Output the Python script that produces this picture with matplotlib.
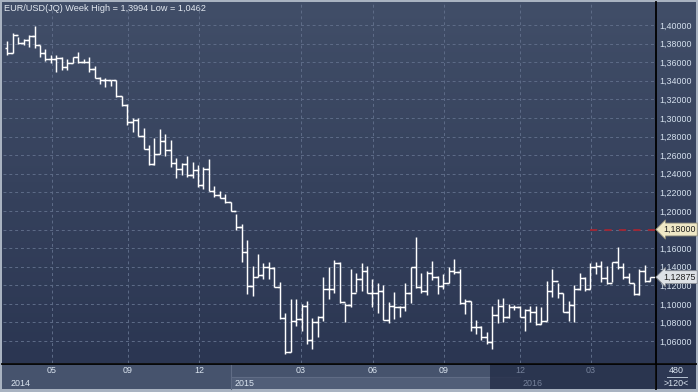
import numpy as np
import matplotlib
matplotlib.use("Agg")
import matplotlib.pyplot as plt
from matplotlib.patches import Rectangle
from matplotlib.transforms import blended_transform_factory

plt.rcParams['font.family'] = ['Liberation Sans', 'DejaVu Sans']

# ---------------- data (weekly EUR/USD bars) ----------------
high = [1.3825, 1.3911, 1.3875, 1.3846, 1.3889, 1.3994, 1.3782, 1.3746, 1.3682, 1.3682,
        1.3661, 1.3639, 1.3661, 1.3711, 1.3639, 1.3654, 1.3554, 1.3439, 1.3425, 1.3411,
        1.3411, 1.3239, 1.3147, 1.2997, 1.2997, 1.2888, 1.2711, 1.2789, 1.2881, 1.2824,
        1.2760, 1.2567, 1.2517, 1.2589, 1.2524, 1.2496, 1.2474, 1.2560, 1.2267, 1.2217,
        1.2182, 1.2096, 1.1967, 1.1860, 1.1682, 1.1410, 1.1535, 1.1435, 1.1450, 1.1393,
        1.1236, 1.0900, 1.1050, 1.1050, 1.1000, 1.1036, 1.0850, 1.0871, 1.1293, 1.1400,
        1.1471, 1.1450, 1.1007, 1.1378, 1.1328, 1.1435, 1.1407, 1.1271, 1.1221, 1.1200,
        1.1021, 1.1129, 1.0979, 1.1221, 1.1393, 1.1721, 1.1336, 1.1350, 1.1457, 1.1300,
        1.1321, 1.1393, 1.1486, 1.1378, 1.1050, 1.1029, 1.0829, 1.0764, 1.0700, 1.0979,
        1.1050, 1.1064, 1.1000, 1.0986, 1.0979, 1.0950, 1.0979, 1.0979, 1.0964, 1.1243,
        1.1371, 1.1229, 1.1121, 1.1036, 1.1207, 1.1336, 1.1286, 1.1436, 1.1450, 1.1464,
        1.1407, 1.1450, 1.1607, 1.1443, 1.1336, 1.1229, 1.1371, 1.1414, 1.1293]
low = [1.3675, 1.3696, 1.3796, 1.3782, 1.3768, 1.3754, 1.3654, 1.3618, 1.3596, 1.3497,
       1.3511, 1.3518, 1.3589, 1.3589, 1.3589, 1.3497, 1.3425, 1.3368, 1.3332, 1.3346,
       1.3225, 1.3132, 1.2925, 1.2854, 1.2810, 1.2667, 1.2489, 1.2489, 1.2610, 1.2596,
       1.2467, 1.2353, 1.2381, 1.2360, 1.2353, 1.2253, 1.2231, 1.2217, 1.2146, 1.2139,
       1.2082, 1.1996, 1.1796, 1.1453, 1.1111, 1.1089, 1.1290, 1.1271, 1.1264, 1.1178,
       1.0836, 1.0462, 1.0486, 1.0757, 1.0707, 1.0571, 1.0514, 1.0643, 1.0811, 1.1057,
       1.1114, 1.1014, 1.0807, 1.0964, 1.1128, 1.1136, 1.1121, 1.0964, 1.0907, 1.0829,
       1.0793, 1.0836, 1.0857, 1.0921, 1.1007, 1.1168, 1.1114, 1.1100, 1.1257, 1.1107,
       1.1164, 1.1221, 1.1321, 1.1000, 1.0886, 1.0707, 1.0679, 1.0614, 1.0571, 1.0514,
       1.0793, 1.0800, 1.0843, 1.0936, 1.0857, 1.0707, 1.0807, 1.0771, 1.0779, 1.0821,
       1.1079, 1.1064, 1.0914, 1.0821, 1.0807, 1.1150, 1.1143, 1.1164, 1.1321, 1.1236,
       1.1214, 1.1236, 1.1378, 1.1271, 1.1229, 1.1100, 1.1093, 1.1236, 1.1243]
close = [1.3704, 1.3889, 1.3811, 1.3839, 1.3882, 1.3782, 1.3696, 1.3632, 1.3632, 1.3646,
         1.3546, 1.3596, 1.3654, 1.3604, 1.3604, 1.3532, 1.3432, 1.3404, 1.3404, 1.3404,
         1.3239, 1.3139, 1.2961, 1.2982, 1.2810, 1.2667, 1.2504, 1.2617, 1.2753, 1.2660,
         1.2517, 1.2446, 1.2510, 1.2389, 1.2439, 1.2281, 1.2453, 1.2217, 1.2167, 1.2139,
         1.2096, 1.2003, 1.1832, 1.1560, 1.1196, 1.1289, 1.1310, 1.1393, 1.1386, 1.1186,
         1.0843, 1.0486, 1.0821, 1.0836, 1.0978, 1.0614, 1.0800, 1.0864, 1.1160, 1.1160,
         1.1443, 1.1021, 1.0993, 1.1121, 1.1264, 1.1350, 1.1121, 1.1121, 1.1143, 1.0829,
         1.0979, 1.0971, 1.0964, 1.1114, 1.1393, 1.1179, 1.1136, 1.1336, 1.1293, 1.1193,
         1.1221, 1.1357, 1.1343, 1.1014, 1.1029, 1.0750, 1.0750, 1.0643, 1.0593, 1.0879,
         1.0979, 1.0864, 1.0964, 1.0964, 1.0857, 1.0929, 1.0914, 1.0779, 1.0821, 1.1143,
         1.1250, 1.1121, 1.0914, 1.0986, 1.1164, 1.1279, 1.1157, 1.1393, 1.1407, 1.1279,
         1.1229, 1.1450, 1.1400, 1.1286, 1.1229, 1.1107, 1.1357, 1.1243, 1.12875]
opn = [1.3754, 1.3704, 1.3889, 1.3811, 1.3839, 1.3882, 1.3782, 1.3696, 1.3632, 1.3632,
       1.3646, 1.3546, 1.3596, 1.3654, 1.3604, 1.3604, 1.3532, 1.3432, 1.3404, 1.3404,
       1.3404, 1.3239, 1.3139, 1.2961, 1.2982, 1.2810, 1.2667, 1.2504, 1.2617, 1.2753,
       1.2660, 1.2517, 1.2446, 1.2510, 1.2389, 1.2439, 1.2281, 1.2453, 1.2217, 1.2167,
       1.2139, 1.2096, 1.2003, 1.1832, 1.1560, 1.1196, 1.1289, 1.1310, 1.1393, 1.1386,
       1.1186, 1.0843, 1.0486, 1.0821, 1.0836, 1.0978, 1.0614, 1.0800, 1.0864, 1.1160,
       1.1160, 1.1443, 1.1021, 1.0993, 1.1121, 1.1264, 1.1350, 1.1121, 1.1121, 1.1143,
       1.0829, 1.0979, 1.0971, 1.0964, 1.1114, 1.1393, 1.1179, 1.1136, 1.1336, 1.1293,
       1.1193, 1.1221, 1.1357, 1.1343, 1.1014, 1.1029, 1.0750, 1.0750, 1.0643, 1.0593,
       1.0879, 1.0979, 1.0864, 1.0964, 1.0964, 1.0857, 1.0929, 1.0914, 1.0779, 1.0821,
       1.1143, 1.1250, 1.1121, 1.0914, 1.0986, 1.1164, 1.1279, 1.1157, 1.1393, 1.1407,
       1.1279, 1.1229, 1.1450, 1.1400, 1.1286, 1.1229, 1.1107, 1.1357, 1.1243]

price_ticks = [1.06, 1.08, 1.10, 1.12, 1.14, 1.16, 1.18, 1.20, 1.22, 1.24,
               1.26, 1.28, 1.30, 1.32, 1.34, 1.36, 1.38, 1.40]
month_labels = ["05", "09", "12", "03", "06", "09", "12", "03"]
month_pos = [8.2, 22.1, 35.2, 53.9, 67.1, 80.1, 94.1, 107.1]   # bar index of label
target_level = 1.18
last_price = 1.12875
title = "EUR/USD(JQ) Week High = 1,3994 Low = 1,0462"


def fmt(v):
    return f"{v:.5f}".replace('.', ',')


# ---------------- figure ----------------
W, H = 698, 392
fig = plt.figure(figsize=(W / 100, H / 100), dpi=100)
fig.patch.set_facecolor('#a9b3c1')

bg = fig.add_axes([0, 0, 1, 1])
bg.set_xlim(0, W)
bg.set_ylim(H, 0)
bg.axis('off')

g = np.linspace(0, 1, 256)[:, None, None]
top = np.array([65, 78, 104]) / 255
bot = np.array([43, 54, 82]) / 255
img = top + (bot - top) * g
bg.imshow(img, extent=(2, 696, 363, 2), aspect='auto', interpolation='bilinear', zorder=0)

# bottom time axis panel
bg.add_patch(Rectangle((2, 364), 653, 25, fc='#46536d', ec='none', zorder=1))
bg.add_patch(Rectangle((231, 377), 289, 12, fc='#515e78', ec='none', zorder=1))
bg.plot([231, 520], [377, 377], color='#606c85', lw=0.8, zorder=2)
bg.plot([231, 231], [364, 389], color='#606c85', lw=0.8, zorder=2)
bg.add_patch(Rectangle((490, 364), 165, 25, fc='#242e48', ec='none', alpha=0.8, zorder=3))
bg.add_patch(Rectangle((656, 364), 40, 25, fc='#2d3853', ec='none', zorder=1))
bg.plot([2, 696], [363.5, 363.5], color='black', lw=1.3, zorder=4)
bg.plot([655.5, 655.5], [2, 389], color='black', lw=1.3, zorder=4)

bg.text(11, 383, "2014", fontsize=6.4, color='#dbe5f0', ha='left', va='center', zorder=5)
bg.text(235, 383, "2015", fontsize=6.4, color='#dbe5f0', ha='left', va='center', zorder=5)
bg.text(523, 383, "2016", fontsize=6.4, color='#76829b', ha='left', va='center', zorder=5)
bg.text(676, 370.5, "480", fontsize=6.4, color='#dbe5f0', ha='center', va='center', zorder=5)
bg.plot([667, 687], [376.5, 376.5], color='#b8c4d2', lw=0.7, zorder=5)
bg.text(676, 383, ">120<", fontsize=6.4, color='#dbe5f0', ha='center', va='center', zorder=5)
bg.text(4, 8.5, title, fontsize=6.6, color='#e3e9f1', ha='left', va='center', zorder=5)

# ---------------- main price axes ----------------
ax = fig.add_axes([3 / W, 29 / H, 652 / W, 360 / H])
ax.patch.set_alpha(0)
for s in ax.spines.values():
    s.set_visible(False)
ax.set_xlim(-0.79, 118.85)
ax.set_ylim(1.03638, 1.42367)

ax.yaxis.tick_right()
ax.set_yticks(price_ticks)
# the 1,18000 level is shown in its marker box instead of as a plain tick label
ax.set_yticklabels(["" if abs(v - target_level) < 1e-9 else fmt(v) for v in price_ticks])
ax.tick_params(axis='y', length=0, pad=3.2, labelsize=6.4, labelcolor='#d5e1ee')
ax.set_xticks(month_pos)
ax.set_xticklabels(month_labels)
ax.tick_params(axis='x', length=0, pad=2.2, labelsize=6.4, labelcolor='#dbe5f0')
for lbl in ax.get_xticklabels()[-2:]:
    lbl.set_color('#76829b')
ax.grid(True, color='#5e6c88', lw=0.7, ls=(0, (3, 3)))
ax.set_axisbelow(True)

x = np.arange(len(close))
ax.vlines(x, low, high, color='white', lw=1.05, zorder=3)
ax.hlines(opn, x - 0.4, x, color='white', lw=1.05, zorder=3)
ax.hlines(close, x, x + 0.85, color='white', lw=1.05, zorder=3)

ax.hlines(target_level, 107, 118.85, color='#a32633', lw=1.3, linestyles=(0, (4, 4)), zorder=2)

trans = blended_transform_factory(ax.transAxes, ax.transData)
ax.text(1.012, target_level, fmt(target_level), transform=trans,
        ha='left', va='center', fontsize=6.4, color='#1e1e1e', clip_on=False, zorder=10,
        bbox=dict(boxstyle='larrow,pad=0.22', fc='#efe8c6', ec='#8d8a78', lw=0.6))
ax.text(1.012, last_price, fmt(last_price), transform=trans,
        ha='left', va='center', fontsize=6.4, color='#1e1e1e', clip_on=False, zorder=10,
        bbox=dict(boxstyle='larrow,pad=0.22', fc='#dde1e6', ec='#8a8f96', lw=0.6))

fig.savefig('out.png', dpi=100, facecolor=fig.get_facecolor())
